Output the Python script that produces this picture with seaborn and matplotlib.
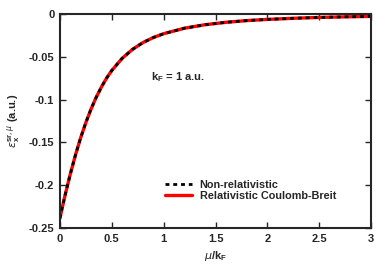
import matplotlib
matplotlib.use("Agg")
import matplotlib.pyplot as plt
import seaborn as sns
import pandas as pd

# values (k_F = 1 a.u.)
mu = [0.0, 0.025, 0.05, 0.1, 0.15, 0.2, 0.25, 0.3, 0.35, 0.4, 0.45, 0.5,
      0.6, 0.7, 0.8, 0.9, 1.0, 1.2, 1.4, 1.6, 1.8, 2.0, 2.25, 2.5, 2.75, 3.0]
eps_nonrel = [-0.2387, -0.2249, -0.2117, -0.1871, -0.1648, -0.1447, -0.1269,
              -0.1112, -0.0974, -0.0854, -0.0750, -0.0661, -0.0519, -0.0414,
              -0.0335, -0.0276, -0.0231, -0.0167, -0.0126, -0.0098, -0.0078,
              -0.0064, -0.0051, -0.0041, -0.0034, -0.0029]
eps_rel = list(eps_nonrel)  # Coulomb-Breit curve lies on top of the NR one

xticks = [0, 0.5, 1, 1.5, 2, 2.5, 3]
yticks = [0, -0.05, -0.1, -0.15, -0.2, -0.25]

df = pd.DataFrame({"mu": mu, "nr": eps_nonrel, "rel": eps_rel})

sns.set_style("ticks")
plt.rcParams["font.family"] = ["Liberation Sans", "DejaVu Sans"]
plt.rcParams["mathtext.fontset"] = "dejavusans"

FS = 8

fig = plt.figure(figsize=(3.89, 2.73), dpi=100)
ax = fig.add_axes([0.154, 0.165, 0.8, 0.784])

sns.lineplot(data=df, x="mu", y="rel", ax=ax, color="#ff0000", lw=2.4,
             label="Relativistic Coulomb-Breit")
sns.lineplot(data=df, x="mu", y="nr", ax=ax, color="black", lw=2.0,
             label="Non-relativistic")
ax.lines[1].set_dashes([1.4, 1.4])

ax.set_xlim(0, 3)
ax.set_ylim(-0.25, 0)
ax.set_xticks(xticks)
ax.set_xticklabels(["0", "0.5", "1", "1.5", "2", "2.5", "3"])
ax.set_yticks(yticks)
ax.set_yticklabels(["0", "-0.05", "-0.1", "-0.15", "-0.2", "-0.25"])
ax.tick_params(direction="in", length=4, width=1, top=True, right=True,
               labelsize=FS, pad=4)
for lab in ax.get_xticklabels() + ax.get_yticklabels():
    lab.set_fontweight("bold")
for s in ax.spines.values():
    s.set_linewidth(1.5)
    s.set_visible(True)

ax.set_xlabel(r"$\mu$/k$_\mathregular{F}$", fontsize=FS, fontweight="bold",
              labelpad=4)
ax.set_ylabel(r"$\varepsilon_\mathregular{x}^{\mathregular{sr},\mu}$ (a.u.)",
              fontsize=FS, fontweight="bold", labelpad=5)

ax.text(0.88, -0.074, r"k$_\mathregular{F}$ = 1 a.u.", fontsize=FS,
        fontweight="bold", va="center", ha="left")

h, l = ax.get_legend_handles_labels()
ax.legend([h[1], h[0]], [l[1], l[0]], loc="upper left",
          bbox_to_anchor=(0.32, 0.25), frameon=False,
          prop={"weight": "bold", "size": 7.8}, handlelength=2.5,
          handletextpad=0.7, labelspacing=0.1, borderpad=0)

fig.savefig("out.png", dpi=100)
